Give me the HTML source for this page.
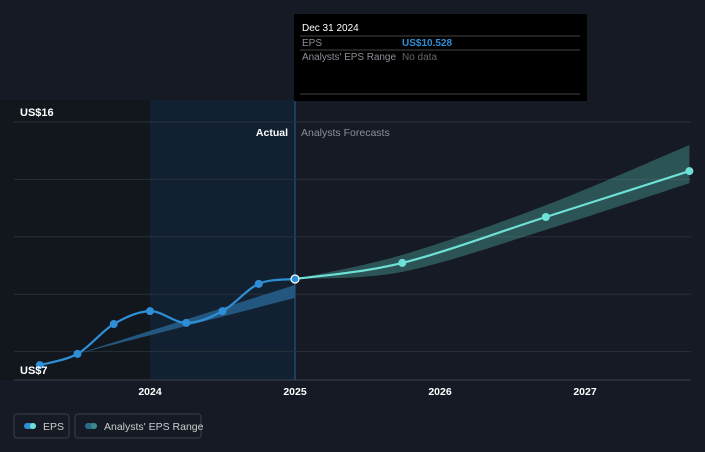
<!DOCTYPE html>
<html><head><meta charset="utf-8"><style>
body{margin:0;background:#151a24;width:705px;height:447px;overflow:hidden;font-family:"Liberation Sans",sans-serif}
svg text{font-family:"Liberation Sans",sans-serif}
</style></head><body>
<svg width="705" height="447">
<rect x="0" y="0" width="705" height="447" fill="#151a24"/>
<rect x="0" y="100" width="150" height="280" fill="#12161d"/>
<rect x="150" y="100" width="145" height="280" fill="#112131"/>
<line x1="295" y1="100" x2="295" y2="380" stroke="#1f4a6e" stroke-width="1.5"/>
<g id="grid"></g>
<g id="bands"></g>
<g id="lines"></g>
<g id="xlabels"></g>
<text x="20" y="116" fill="#fff" font-size="11" font-weight="bold">US$16</text>
<text x="20" y="374" fill="#fff" font-size="11" font-weight="bold">US$7</text>
<text x="288" y="136" fill="#fff" font-size="10.5" font-weight="bold" text-anchor="end">Actual</text>
<text x="301" y="136" fill="#8a8f98" font-size="10.5">Analysts Forecasts</text>
<g>
<rect x="294" y="14" width="293" height="87" fill="#000"/>
<text x="302" y="31" fill="#fff" font-size="10">Dec 31 2024</text>
<line x1="300" y1="36" x2="580" y2="36" stroke="#444"/>
<text x="302" y="46" fill="#8a8f98" font-size="10">EPS</text>
<text x="402" y="46" fill="#2f8fd6" font-size="10" font-weight="bold">US$10.528</text>
<line x1="300" y1="50" x2="580" y2="50" stroke="#444"/>
<text x="302" y="60" fill="#8a8f98" font-size="10" textLength="94">Analysts' EPS Range</text>
<text x="402" y="60" fill="#666" font-size="10">No data</text>
<line x1="300" y1="94" x2="580" y2="94" stroke="#444"/>
</g>
<g>
<rect x="14" y="414" width="55" height="24" rx="3" fill="none" stroke="#3a404a"/>
<rect x="24" y="423" width="12" height="6" rx="3" fill="#2f8fd6"/><circle cx="33" cy="426" r="3" fill="#6fe0d6"/>
<text x="43" y="430" fill="#ccc" font-size="10.5">EPS</text>
<rect x="75" y="414" width="126" height="24" rx="3" fill="none" stroke="#3a404a"/>
<rect x="85" y="423" width="12" height="6" rx="3" fill="#2a6a8a"/><circle cx="94" cy="426" r="3" fill="#3d8a86"/>
<text x="104" y="430" fill="#ccc" font-size="10.5">Analysts' EPS Range</text>
</g>
</svg>
<script>
const histX=[2023.24,2023.5,2023.75,2024.0,2024.25,2024.5,2024.75,2025.0];
const histEps=[7.53,7.92,8.96,9.41,9.0,9.41,10.36,10.53];
const histBandX=[2023.5,2025.0];
const histBandLow=[7.92,9.87];
const histBandHigh=[7.92,10.32];
const fcX=[2025.0,2025.74,2026.73,2027.72];
const fcEps=[10.53,11.09,12.69,14.29];
const fcLow=[10.53,10.78,12.24,13.87];
const fcHigh=[10.53,11.37,13.1,15.2];
const yTicks=[16,14,12,10,8];
const xTicks=[2024,2025,2026,2027];
const xs=t=>150+(t-2024)*145;
const ys=v=>122+(16-v)*28.7;
const NS="http://www.w3.org/2000/svg";
function mk(tag,parent,attrs){const e=document.createElementNS(NS,tag);for(const k in attrs)e.setAttribute(k,attrs[k]);document.getElementById(parent).appendChild(e);return e;}
yTicks.forEach(v=>{const l=mk('line','grid',{x1:14,x2:691,y1:ys(v),y2:ys(v),stroke:'#2a303a','stroke-width':1});

});
const ax=mk('line','grid',{x1:14,x2:691,y1:380,y2:380,stroke:'#3a404a'});


xTicks.forEach(t=>{const e=mk('text','xlabels',{x:xs(t),y:395,fill:'#fff','font-size':10.5,'font-weight':'bold','text-anchor':'middle'});e.textContent=t;

});
function pts(X,Y){return X.map((t,i)=>[xs(t),ys(Y[i])]);}
function seg(P){let d='';for(let i=0;i<P.length-1;i++){const p0=P[i-1]||P[i],p1=P[i],p2=P[i+1],p3=P[i+2]||p2;
d+=`C${p1[0]+(p2[0]-p0[0])/6},${p1[1]+(p2[1]-p0[1])/6} ${p2[0]-(p3[0]-p1[0])/6},${p2[1]-(p3[1]-p1[1])/6} ${p2[0]},${p2[1]}`;}return d;}
function smooth(X,Y){const P=pts(X,Y);return 'M'+P[0]+seg(P);}
function band(X,lo,hi,fill,name){const H=pts(X,hi),L=pts(X,lo).reverse();
const d='M'+H[0]+seg(H)+'L'+L[0]+seg(L)+'Z';
const p=mk('path','bands',{d:d,fill:fill});

}
band(histBandX,histBandLow,histBandHigh,'#24577f','past-estimate-band');
band(fcX,fcLow,fcHigh,'rgba(80,170,160,0.4)','analysts-eps-range');
const h=mk('path','lines',{d:smooth(histX,histEps),fill:'none',stroke:'#2f8fd6','stroke-width':2.2});


const f=mk('path','lines',{d:smooth(fcX,fcEps),fill:'none',stroke:'#6fe0d6','stroke-width':2.2});


histX.forEach((t,i)=>{if(i===histX.length-1)return;const c=mk('circle','lines',{cx:xs(t),cy:ys(histEps[i]),r:4,fill:'#2f8fd6'});

});
fcX.forEach((t,i)=>{if(i===0)return;const c=mk('circle','lines',{cx:xs(t),cy:ys(fcEps[i]),r:4,fill:'#6fe0d6'});

});
const cur=mk('circle','lines',{cx:xs(2025),cy:ys(10.53),r:4,fill:'#2f8fd6',stroke:'#fff','stroke-width':1.2});


</script>
</body></html>
